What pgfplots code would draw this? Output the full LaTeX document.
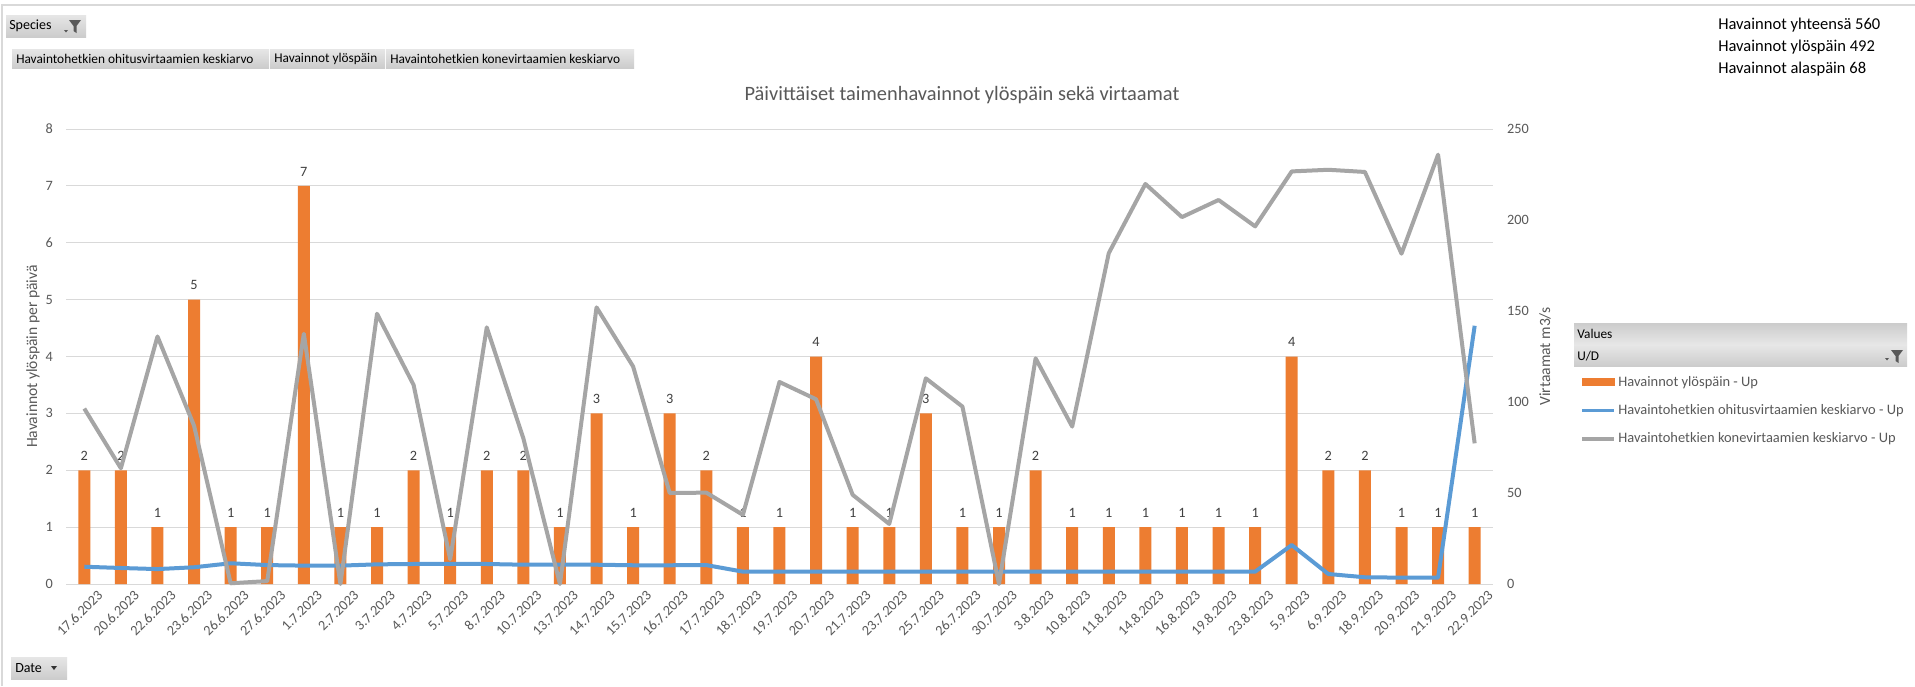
\documentclass[border=0pt]{standalone}
\usepackage{pgfplots}
\pgfplotsset{compat=1.18}
\usepackage{pgfplotstable}
\usepackage{fontspec}
\setmainfont{Carlito}
\definecolor{orange1}{HTML}{ED7D31}
\definecolor{blue1}{HTML}{5B9BD5}
\definecolor{gray1}{HTML}{A5A5A5}
\definecolor{tickgray}{HTML}{595959}
\definecolor{gridgray}{HTML}{D9D9D9}
\definecolor{labelgray}{HTML}{404040}
\definecolor{btntop}{HTML}{E6E6E6}
\definecolor{btnbot}{HTML}{CCCCCC}
\definecolor{framegray}{HTML}{D9D9D9}

\pgfplotstableread{
x up ohi kone
0 2 9.5 96.4
1 2 8.8 63.6
2 1 8.2 136
3 5 9.2 87
4 1 11.4 0.4
5 1 10.4 1.6
6 7 10.1 137.5
7 1 10.1 0
8 1 10.8 148.5
9 2 11.0 109.4
10 1 11.0 13.6
11 2 11.0 141
12 2 10.6 80
13 1 10.6 0
14 3 10.6 152
15 1 10.3 119.5
16 3 10.3 50
17 2 10.4 50.2
18 1 6.8 38
19 1 6.8 111
20 4 6.8 101.5
21 1 6.8 49
22 1 6.8 33
23 3 6.8 113
24 1 6.8 97.5
25 1 6.8 0
26 2 6.8 124
27 1 6.8 86.5
28 1 6.8 181.8
29 1 6.8 219.8
30 1 6.8 201.6
31 1 6.8 211
32 1 6.8 196.5
33 4 21.4 226.7
34 2 5.5 227.6
35 2 3.7 226.4
36 1 3.5 181.5
37 1 3.5 235.9
38 1 141.9 77.3
}\datatable

\pgfkeys{/pgf/number format/assume math mode=true}

\begin{document}
\begin{tikzpicture}
\begin{scope}[x=0.75pt,y=-0.75pt]
\useasboundingbox (0,0) rectangle (1915,686);
\fill[white] (0,0) rectangle (1915,686);
\draw[framegray, line width=1.5pt] (2,686) -- (2,5) -- (1915,5);
% Species button
\shade[top color=btntop, bottom color=btnbot] (6,15) rectangle (86,37);
\node[anchor=west, font=\fontsize{10.5}{12}\selectfont, inner sep=0pt] at (9,26) {Species};
\fill[tickgray] (64,30) -- (68,30) -- (66,32.5) -- cycle;
\begin{scope}[shift={(69,20)}]
\fill[tickgray] (0,0) -- (12,0) -- (7.5,6) -- (7.5,13) -- (4.5,11) -- (4.5,6) -- cycle;
\end{scope}
% field buttons
\shade[top color=btntop, bottom color=btnbot] (12,49) rectangle (269,68);
\shade[top color=btntop, bottom color=btnbot] (270,49) rectangle (385,68);
\shade[top color=btntop, bottom color=btnbot] (386,49) rectangle (634,68);
\node[anchor=west, font=\fontsize{10}{12}\selectfont, inner sep=0pt] at (16,58.5) {Havaintohetkien ohitusvirtaamien keskiarvo};
\node[anchor=west, font=\fontsize{10}{12}\selectfont, inner sep=0pt] at (274,58.5) {Havainnot ylöspäin};
\node[anchor=west, font=\fontsize{10}{12}\selectfont, inner sep=0pt] at (390,58.5) {Havaintohetkien konevirtaamien keskiarvo};
% Date button
\shade[top color=btntop, bottom color=btnbot] (11,657) rectangle (67,679);
\node[anchor=west, font=\fontsize{10.5}{12}\selectfont, inner sep=0pt] at (15,668) {Date};
\fill[black!80] (51,666) -- (57,666) -- (54,670) -- cycle;
% title
\node[font=\fontsize{15.3}{18}\selectfont, text=tickgray] at (962,95) {Päivittäiset taimenhavainnot ylöspäin sekä virtaamat};
% top right text
\node[anchor=west, font=\fontsize{12.4}{15}\selectfont, inner sep=0pt] at (1718,25) {Havainnot yhteensä 560};
\node[anchor=west, font=\fontsize{12.4}{15}\selectfont, inner sep=0pt] at (1718,47) {Havainnot ylöspäin 492};
\node[anchor=west, font=\fontsize{12.4}{15}\selectfont, inner sep=0pt] at (1718,69) {Havainnot alaspäin 68};
% Values panel
\shade[top color=btnbot, bottom color=btntop] (1574,323) rectangle (1907,344);
\shade[top color=btntop, bottom color=btnbot] (1574,345.5) rectangle (1907,366);
\node[anchor=west, font=\fontsize{10}{12}\selectfont, inner sep=0pt] at (1577,333.5) {Values};
\node[anchor=west, font=\fontsize{10}{12}\selectfont, inner sep=0pt] at (1577,356) {U/D};
\fill[tickgray] (1885,358) -- (1889,358) -- (1887,360.5) -- cycle;
\begin{scope}[shift={(1891,350)}]
\fill[tickgray] (0,0) -- (12,0) -- (7.5,6) -- (7.5,13) -- (4.5,11) -- (4.5,6) -- cycle;
\end{scope}
\end{scope}

\begin{axis}[
  at={(49.5pt,-438pt)}, anchor=south west,
  scale only axis, width=1070.25pt, height=341.25pt,
  xmin=-0.5, xmax=38.5, ymin=0, ymax=8,
  ytick={0,1,...,8},
  xtick={0,1,...,38},
  xticklabels={17.6.2023,20.6.2023,22.6.2023,23.6.2023,26.6.2023,27.6.2023,1.7.2023,2.7.2023,3.7.2023,4.7.2023,5.7.2023,8.7.2023,10.7.2023,13.7.2023,14.7.2023,15.7.2023,16.7.2023,17.7.2023,18.7.2023,19.7.2023,20.7.2023,21.7.2023,23.7.2023,25.7.2023,26.7.2023,30.7.2023,3.8.2023,10.8.2023,11.8.2023,14.8.2023,16.8.2023,19.8.2023,23.8.2023,5.9.2023,6.9.2023,18.9.2023,20.9.2023,21.9.2023,22.9.2023},
  axis line style={draw=none},
  major tick length=0pt,
  ymajorgrids, grid style={gridgray, line width=0.75pt},
  tick label style={font=\fontsize{10.7}{12}\selectfont, text=tickgray},
  yticklabel style={anchor=east, inner sep=0pt, xshift=-9.75pt},
  xticklabel style={rotate=45, anchor=east, inner sep=0pt, yshift=-13pt, xshift=4pt},
  every axis y label/.style={at={(axis description cs:-0.0231,0.5)}, rotate=90, anchor=center, font=\fontsize{11.7}{13}\selectfont, text=tickgray},
  ylabel={Havainnot ylöspäin per päivä},
  ybar, bar width=9pt, bar shift=0pt,
  nodes near coords,
  every node near coord/.append style={font=\fontsize{10.7}{12}\selectfont, text=labelgray, anchor=south, inner sep=0pt, yshift=7pt},
  clip=false,
]
\addplot[fill=orange1, draw=none] table[x=x, y=up] {\datatable};
\end{axis}

\begin{axis}[
  at={(49.5pt,-438pt)}, anchor=south west,
  scale only axis, width=1070.25pt, height=341.25pt,
  xmin=-0.5, xmax=38.5, ymin=0, ymax=250,
  ytick={0,50,...,250},
  axis y line*=right, hide x axis,
  axis line style={draw=none},
  major tick length=0pt,
  tick label style={font=\fontsize{10.7}{12}\selectfont, text=tickgray},
  yticklabel style={anchor=west, inner sep=0pt, xshift=10.5pt},
  every axis y label/.style={at={(axis description cs:1.0364,0.5)}, rotate=90, anchor=center, font=\fontsize{11.7}{13}\selectfont, text=tickgray},
  ylabel={Virtaamat m3/s},
  legend image code/.code={\draw[#1, line width=2.6pt] (0pt,0pt) -- (24pt,0pt);},
  legend style={at={(1.061,0.4637)}, anchor=north west, draw=none, fill=none,
    font=\fontsize{10.85}{13}\selectfont, text=tickgray, inner xsep=0pt, inner ysep=0pt,
    row sep=8.3pt, cells={anchor=west},
    /tikz/every even column/.append style={column sep=0pt}},
  clip=false,
]
\addlegendimage{legend image code/.code={\fill[orange1] (0pt,-2.6pt) rectangle (24pt,2.6pt);}}
\addlegendentry{Havainnot ylöspäin - Up}
\addplot[blue1, line width=3pt, line join=round] table[x=x, y=ohi] {\datatable};
\addlegendentry{Havaintohetkien ohitusvirtaamien keskiarvo - Up}
\addplot[gray1, line width=3pt, line join=round] table[x=x, y=kone] {\datatable};
\addlegendentry{Havaintohetkien konevirtaamien keskiarvo - Up}
\end{axis}
\end{tikzpicture}
\end{document}
